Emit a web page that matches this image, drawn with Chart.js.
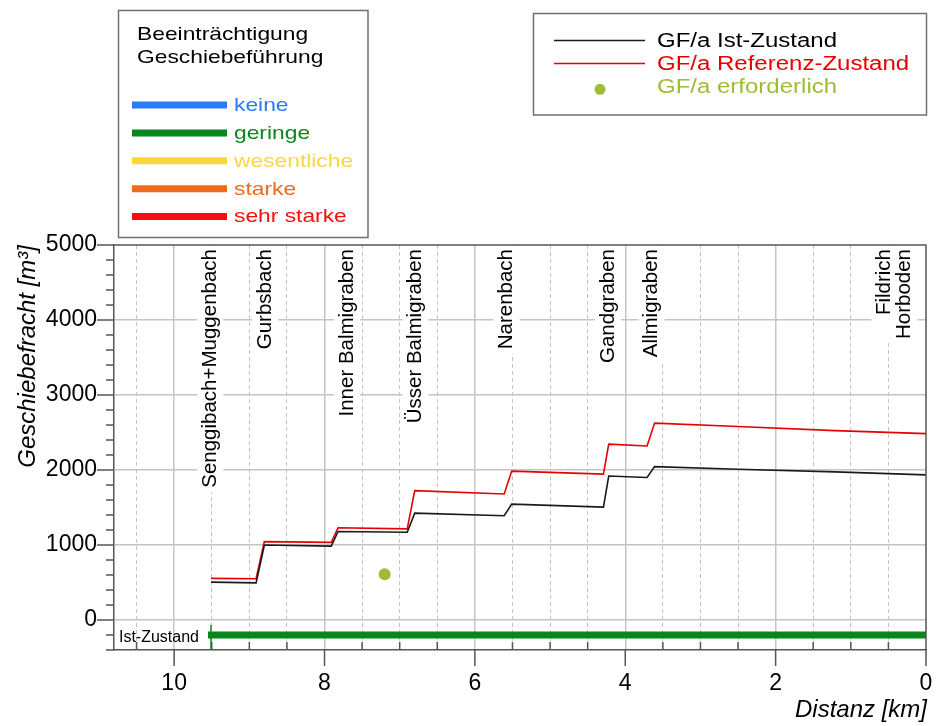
<!DOCTYPE html>
<html>
<head>
<meta charset="utf-8">
<script src="https://cdn.jsdelivr.net/npm/chart.js@4.4.0/dist/chart.umd.min.js"></script>
<style>
  html, body { margin: 0; padding: 0; background: #fff; }
  canvas { display: block; }
</style>
</head>
<body>
<canvas id="myChart" width="936" height="726"></canvas>
<script>
//* Längsprofil Geschiebefracht, Distanz in km, GF/a in m3
const distKm = [9.51, 8.91, 8.8, 7.91, 7.82, 6.9, 6.8, 5.61, 5.51, 4.29, 4.22, 3.71, 3.61, 2.5, 1.21, 0];
const gfIst = [505, 495, 1000, 985, 1180, 1170, 1425, 1390, 1545, 1505, 1920, 1900, 2045, 2010, 1975, 1935];
const gfReferenz = [555, 550, 1045, 1035, 1230, 1215, 1725, 1680, 1985, 1945, 2345, 2320, 2625, 2580, 2525, 2485];

const erforderlichKm = [7.2];
const gfErforderlich = [610];

//? Beeinträchtigung Ist-Zustand (Balken unten)
const istZustandKm = [9.55, 0];
const istZustandLevel = -200;
const istZustandStufe = 1; // geringe

const zufluesse = ["Senggibach+Muggenbach", "Gurbsbach", "Inner Balmigraben", "Üsser Balmigraben", "Narenbach", "Gandgraben", "Allmigraben", "Fildrich\nHorboden"];
const zuflussKm = [9.52, 8.79, 7.7, 6.79, 5.58, 4.23, 3.65, 0.42];

const stufen = ["keine", "geringe", "wesentliche", "starke", "sehr starke"];
const stufenFarben = ["#2b7bf2", "#0a871c", "#fcd73c", "#f06a1e", "#fb0d0d"];

const xTicks = [10, 8, 6, 4, 2, 0];
const yTicks = [0, 1000, 2000, 3000, 4000, 5000];

const FONT = '"Liberation Sans", Arial, Helvetica, sans-serif';
Chart.defaults.font.family = FONT;
Chart.defaults.color = "#000";

let isMajorX = (v) => xTicks.some((t) => Math.abs(t - v) < 1e-6);

let stretchText = (ctx, text, x, y, sx) => {
  ctx.save();
  ctx.translate(x, y);
  ctx.scale(sx, 1);
  ctx.fillText(text, 0, 0);
  ctx.restore();
};

//* Hintergrund, Zuflüsse, Rahmen, Ticks und Legenden
const profilPlugin = {
  id: "profil",
  beforeDraw(chart) {
    const ctx = chart.ctx;
    ctx.save();
    ctx.fillStyle = "#fff";
    ctx.fillRect(0, 0, chart.width, chart.height);
    ctx.restore();
  },
  beforeDatasetsDraw(chart) {
    const ctx = chart.ctx;
    const xs = chart.scales.x;
    const top = chart.chartArea.top;
    ctx.save();
    ctx.font = "20.5px " + FONT;
    ctx.textAlign = "right";
    ctx.textBaseline = "middle";
    zufluesse.forEach((name, i) => {
      const lines = name.split("\n");
      const px = xs.getPixelForValue(zuflussKm[i]);
      const lh = 20;
      const w = Math.max(...lines.map((l) => ctx.measureText(l).width));
      const h = lh * lines.length;
      ctx.save();
      ctx.translate(px, top + 4);
      ctx.rotate(-Math.PI / 2);
      ctx.fillStyle = "#fff";
      ctx.fillRect(-w - 4, -h / 2 - 3, w + 7, h + 6);
      ctx.fillStyle = "#000";
      lines.forEach((l, j) => {
        ctx.fillText(l, 0, -h / 2 + lh / 2 + j * lh);
      });
      ctx.restore();
    });
    ctx.restore();
  },
  afterDraw(chart) {
    const ctx = chart.ctx;
    const xs = chart.scales.x;
    const ys = chart.scales.y;
    const { left, right, top, bottom } = chart.chartArea;

    ctx.save();
    //? Rahmen oben und rechts
    ctx.strokeStyle = "#555";
    ctx.lineWidth = 1.5;
    ctx.beginPath();
    ctx.moveTo(left, top);
    ctx.lineTo(right, top);
    ctx.lineTo(right, bottom);
    ctx.stroke();

    //? Tick-Striche
    ctx.beginPath();
    ys.ticks.forEach((t) => {
      const py = ys.getPixelForValue(t.value);
      const len = yTicks.includes(t.value) ? 17 : 8;
      ctx.moveTo(left - len, py);
      ctx.lineTo(left, py);
    });
    xs.ticks.forEach((t) => {
      const px = xs.getPixelForValue(t.value);
      if (isMajorX(t.value)) {
        ctx.moveTo(px, bottom);
        ctx.lineTo(px, bottom + 16);
      } else {
        ctx.moveTo(px, bottom);
        ctx.lineTo(px, bottom - 8);
      }
    });
    ctx.stroke();

    //? Ist-Zustand Beschriftung
    ctx.fillStyle = "#000";
    ctx.font = "16px " + FONT;
    ctx.textAlign = "right";
    ctx.textBaseline = "alphabetic";
    ctx.fillText("Ist-Zustand", xs.getPixelForValue(istZustandKm[0]) - 9, ys.getPixelForValue(istZustandLevel) + 7);

    //? X-Achsentitel
    ctx.font = "italic 24px " + FONT;
    ctx.fillText("Distanz [km]", 927, 717);

    //? Legende Beeinträchtigung
    ctx.strokeStyle = "#707070";
    ctx.lineWidth = 1.5;
    ctx.fillStyle = "#fff";
    ctx.fillRect(118.5, 10.5, 249.5, 227);
    ctx.strokeRect(118.5, 10.5, 249.5, 227);
    ctx.fillStyle = "#000";
    ctx.textAlign = "left";
    ctx.font = "19px " + FONT;
    stretchText(ctx, "Beeinträchtigung", 137, 40, 1.2);
    stretchText(ctx, "Geschiebeführung", 137, 62.5, 1.2);
    stufen.forEach((s, i) => {
      const y = 105 + i * 27.9;
      ctx.strokeStyle = stufenFarben[i];
      ctx.lineWidth = 7;
      ctx.beginPath();
      ctx.moveTo(132, y);
      ctx.lineTo(227, y);
      ctx.stroke();
      ctx.fillStyle = stufenFarben[i];
      stretchText(ctx, s, 234, y + 5.8, 1.2);
    });

    //? Legende GF/a
    ctx.strokeStyle = "#707070";
    ctx.lineWidth = 1.5;
    ctx.fillStyle = "#fff";
    ctx.fillRect(533.5, 13.5, 393, 101.5);
    ctx.strokeRect(533.5, 13.5, 393, 101.5);
    ctx.font = "20px " + FONT;
    ctx.lineWidth = 1.6;
    ctx.strokeStyle = "#1a1a1a";
    ctx.beginPath();
    ctx.moveTo(554, 40.5);
    ctx.lineTo(645, 40.5);
    ctx.stroke();
    ctx.strokeStyle = "#e60000";
    ctx.beginPath();
    ctx.moveTo(554, 63.5);
    ctx.lineTo(645, 63.5);
    ctx.stroke();
    ctx.fillStyle = "#9cbd34";
    ctx.beginPath();
    ctx.arc(600, 89.3, 5.5, 0, Math.PI * 2);
    ctx.fill();
    ctx.fillStyle = "#000";
    stretchText(ctx, "GF/a Ist-Zustand", 657, 46.7, 1.2);
    ctx.fillStyle = "#e60000";
    stretchText(ctx, "GF/a Referenz-Zustand", 657, 70, 1.2);
    ctx.fillStyle = "#9cbd34";
    stretchText(ctx, "GF/a erforderlich", 657, 93.3, 1.2);
    ctx.restore();
  },
};

const ctx = document.querySelector("#myChart").getContext("2d");

const data = {
  datasets: [
    {
      label: "GF/a Ist-Zustand",
      data: distKm.map((km, i) => ({ x: km, y: gfIst[i] })),
      borderColor: "#1a1a1a",
      borderWidth: 1.6,
      pointRadius: 0,
      tension: 0,
    },
    {
      label: "GF/a Referenz-Zustand",
      data: distKm.map((km, i) => ({ x: km, y: gfReferenz[i] })),
      borderColor: "#e60000",
      borderWidth: 1.6,
      pointRadius: 0,
      tension: 0,
    },
    {
      label: "GF/a erforderlich",
      data: erforderlichKm.map((km, i) => ({ x: km, y: gfErforderlich[i] })),
      showLine: false,
      pointRadius: 6,
      pointBackgroundColor: "#9cbd34",
      pointBorderWidth: 0,
    },
    {
      label: "Ist-Zustand",
      data: istZustandKm.map((km) => ({ x: km, y: istZustandLevel })),
      borderColor: stufenFarben[istZustandStufe],
      borderWidth: 7,
      borderCapStyle: "butt",
      pointRadius: 0,
    },
    {
      label: "Start",
      data: [
        { x: istZustandKm[0] - 0.04, y: istZustandLevel + 135 },
        { x: istZustandKm[0] - 0.04, y: istZustandLevel - 200 },
      ],
      borderColor: stufenFarben[istZustandStufe],
      borderWidth: 1.5,
      pointRadius: 0,
    },
  ],
};

const config = {
  type: "line",
  data: data,
  plugins: [profilPlugin],
  options: {
    responsive: false,
    animation: false,
    layout: { padding: { top: 245, right: 10, left: 0, bottom: 0 } },
    plugins: { legend: { display: false }, tooltip: { enabled: false } },
    scales: {
      x: {
        type: "linear",
        reverse: true,
        min: 0,
        max: 10.8,
        afterFit: (s) => {
          s.height = 76;
        },
        ticks: {
          stepSize: 0.5,
          includeBounds: false,
          autoSkip: false,
          maxRotation: 0,
          padding: 0,
          //* grosse lineHeight schiebt die Zahlen nach unten, ohne rechts Platz zu kosten
          font: { size: 23, lineHeight: 2.9 },
          callback: function (value) {
            return isMajorX(value) ? String(Math.round(value)) : "";
          },
        },
        grid: {
          drawTicks: false,
          color: (c) => {
            const v = c.tick ? c.tick.value : null;
            if (v === null || Math.abs(v) < 1e-6) return "rgba(0,0,0,0)";
            return isMajorX(v) ? "#c4c4c4" : "#c4c4c4";
          },
          lineWidth: (c) => (c.tick && isMajorX(c.tick.value) ? 1.5 : 1),
        },
        border: {
          display: true,
          color: "#555",
          width: 1.5,
          dash: (c) => (c.tick && !isMajorX(c.tick.value) ? [4, 3] : []),
        },
      },
      y: {
        min: -400,
        max: 5000,
        afterFit: (s) => {
          s.width = 114;
        },
        ticks: {
          stepSize: 200,
          autoSkip: false,
          padding: 17,
          font: { size: 23 },
          callback: function (value) {
            return yTicks.includes(value) ? String(value) : "";
          },
        },
        grid: {
          drawTicks: false,
          color: (c) => {
            const v = c.tick ? c.tick.value : null;
            return v !== null && v !== 5000 && yTicks.includes(v) ? "#c4c4c4" : "rgba(0,0,0,0)";
          },
          lineWidth: 1.5,
        },
        border: { display: true, color: "#555", width: 1.5 },
        title: {
          display: true,
          text: "Geschiebefracht [m³]",
          align: "end",
          color: "#000",
          font: { size: 24, style: "italic" },
          padding: { top: 14, bottom: 0 },
        },
      },
    },
  },
};

const myChart = new Chart(ctx, config);
</script>
</body>
</html>
